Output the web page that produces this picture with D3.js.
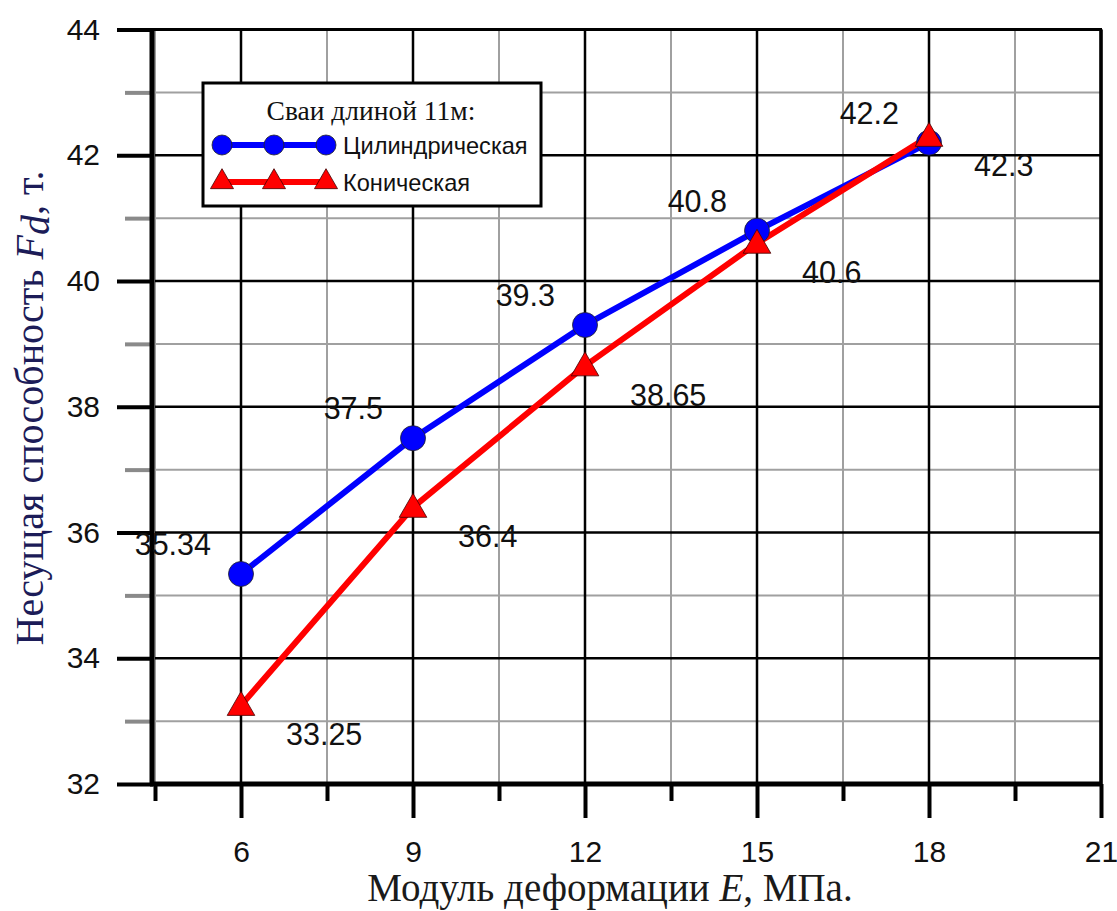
<!DOCTYPE html>
<html><head><meta charset="utf-8">
<script src="https://cdn.jsdelivr.net/npm/d3@7"></script>
<style>body{margin:0;background:#fff}svg{display:block}</style>
</head><body>
<svg id="c" width="1117" height="911"></svg>
<script>
const xValues = [6, 9, 12, 15, 18];
const cylValues = [35.34, 37.5, 39.3, 40.8, 42.2];
const conValues = [33.25, 36.4, 38.65, 40.6, 42.3];
const cylLabels = ["35.34", "37.5", "39.3", "40.8", "42.2"];
const conLabels = ["33.25", "36.4", "38.65", "40.6", "42.3"];
const xTicks = [6, 9, 12, 15, 18, 21];
const xMinor = [4.5, 7.5, 10.5, 13.5, 16.5, 19.5];
const yTicks = [32, 34, 36, 38, 40, 42, 44];
const yMinor = [33, 35, 37, 39, 41, 43];
const legendTitle = "Сваи длиной 11м:";
const seriesNames = ["Цилиндрическая", "Коническая"];

const svg = d3.select("#c");
const L = 155, R = 1101, T = 29.5, B = 784;
const x = d3.scaleLinear().domain([4.5, 21]).range([L, R]);
const y = d3.scaleLinear().domain([32, 44]).range([B, T]);

const grid = svg.append("g");
grid.selectAll(".vm").data(xMinor).join("line")
  .attr("x1", d => x(d)).attr("x2", d => x(d)).attr("y1", T).attr("y2", B)
  .attr("stroke", "#a0a0a0").attr("stroke-width", 2);
grid.selectAll(".hm").data(yMinor).join("line")
  .attr("x1", L).attr("x2", R).attr("y1", d => y(d)).attr("y2", d => y(d))
  .attr("stroke", "#a0a0a0").attr("stroke-width", 2);
grid.selectAll(".vM").data(xTicks).join("line")
  .attr("x1", d => x(d)).attr("x2", d => x(d)).attr("y1", T).attr("y2", B)
  .attr("stroke", "#000").attr("stroke-width", 2.5);
grid.selectAll(".hM").data(yTicks).join("line")
  .attr("x1", L).attr("x2", R).attr("y1", d => y(d)).attr("y2", d => y(d))
  .attr("stroke", "#000").attr("stroke-width", 2.5);

const font = "'Liberation Sans', Arial, sans-serif";
const serif = "'Liberation Serif', 'Times New Roman', serif";

const xAxis = d3.axisBottom(x).tickValues(xTicks).tickSize(34).tickPadding(23).tickFormat(d3.format("d"));
const gx = svg.append("g").attr("transform", `translate(0,${B})`).call(xAxis);
gx.select(".domain").remove();
gx.selectAll(".tick line").attr("stroke", "#000").attr("stroke-width", 4);
gx.selectAll(".tick text").attr("font-family", font).attr("font-size", 30).attr("fill", "#111");
const gxm = svg.append("g").attr("transform", `translate(0,${B})`)
  .call(d3.axisBottom(x).tickValues(xMinor).tickSize(17).tickFormat(""));
gxm.select(".domain").remove();
gxm.selectAll(".tick line").attr("stroke", "#000").attr("stroke-width", 4);

const yAxis = d3.axisLeft(y).tickValues(yTicks).tickSize(36).tickPadding(17).tickFormat(d3.format("d"));
const gy = svg.append("g").attr("transform", `translate(${L - 2},0)`).call(yAxis);
gy.select(".domain").remove();
gy.selectAll(".tick line").attr("stroke", "#000").attr("stroke-width", 4);
gy.selectAll(".tick text").attr("font-family", font).attr("font-size", 30).attr("fill", "#111");
const gym = svg.append("g").attr("transform", `translate(${L - 2},0)`)
  .call(d3.axisLeft(y).tickValues(yMinor).tickSize(28).tickFormat(""));
gym.select(".domain").remove();
gym.selectAll(".tick line").attr("stroke", "#8a8a8a").attr("stroke-width", 4);

svg.append("line").attr("x1", L - 3).attr("x2", L - 3).attr("y1", T - 1).attr("y2", B + 2)
  .attr("stroke", "#000").attr("stroke-width", 5);
svg.append("line").attr("x1", L - 5).attr("x2", R + 1).attr("y1", B).attr("y2", B)
  .attr("stroke", "#000").attr("stroke-width", 5);
svg.append("line").attr("x1", L - 5).attr("x2", R + 1).attr("y1", T).attr("y2", T)
  .attr("stroke", "#000").attr("stroke-width", 3);
svg.append("line").attr("x1", R).attr("x2", R).attr("y1", T).attr("y2", B)
  .attr("stroke", "#000").attr("stroke-width", 3.5);

const line = d3.line().x(d => x(d[0])).y(d => y(d[1]));
const cyl = xValues.map((v, i) => [v, cylValues[i]]);
const con = xValues.map((v, i) => [v, conValues[i]]);
svg.append("path").datum(cyl).attr("d", line).attr("fill", "none")
  .attr("stroke", "#0000ff").attr("stroke-width", 6).attr("stroke-linejoin", "round");
svg.append("path").datum(con).attr("d", line).attr("fill", "none")
  .attr("stroke", "#ff0000").attr("stroke-width", 6).attr("stroke-linejoin", "round");

const tri = d3.symbol().type(d3.symbolTriangle);
svg.selectAll(".cm").data(cyl).join("circle")
  .attr("cx", d => x(d[0])).attr("cy", d => y(d[1])).attr("r", 12.5)
  .attr("fill", "#0000ff").attr("stroke", "#222").attr("stroke-width", 0.8);
svg.selectAll(".tm").data(con).join("path")
  .attr("d", tri.size(330)())
  .attr("transform", d => `translate(${x(d[0])},${y(d[1]) + 2})`)
  .attr("fill", "#ff0000").attr("stroke", "#400").attr("stroke-width", 0.8);

svg.selectAll(".cl").data(cyl).join("text")
  .attr("x", d => x(d[0]) - 30).attr("y", d => y(d[1]) - 19)
  .attr("text-anchor", "end").attr("font-family", font).attr("font-size", 30.5).attr("fill", "#111")
  .text((d, i) => cylLabels[i]);
svg.selectAll(".tl").data(con).join("text")
  .attr("x", d => x(d[0]) + 45).attr("y", d => y(d[1]) + 40)
  .attr("text-anchor", "start").attr("font-family", font).attr("font-size", 30.5).attr("fill", "#111")
  .text((d, i) => conLabels[i]);

const lg = svg.append("g");
lg.append("rect").attr("x", 203).attr("y", 83).attr("width", 338).attr("height", 123)
  .attr("fill", "#fff").attr("stroke", "#000").attr("stroke-width", 3);
lg.append("text").attr("x", 371).attr("y", 120).attr("text-anchor", "middle")
  .attr("font-family", serif).attr("font-size", 27.5).attr("fill", "#111").text(legendTitle);
const lx = [222, 274, 326];
lg.append("line").attr("x1", 222).attr("x2", 326).attr("y1", 145).attr("y2", 145)
  .attr("stroke", "#0000ff").attr("stroke-width", 6);
lg.selectAll(".lc").data(lx).join("circle").attr("cx", d => d).attr("cy", 145).attr("r", 10)
  .attr("fill", "#0000ff").attr("stroke", "#222").attr("stroke-width", 0.8);
lg.append("line").attr("x1", 222).attr("x2", 326).attr("y1", 182).attr("y2", 182)
  .attr("stroke", "#ff0000").attr("stroke-width", 6);
lg.selectAll(".lt").data(lx).join("path").attr("d", tri.size(230)())
  .attr("transform", d => `translate(${d},${182})`)
  .attr("fill", "#ff0000").attr("stroke", "#400").attr("stroke-width", 0.8);
lg.append("text").attr("x", 343).attr("y", 154).attr("font-family", font).attr("font-size", 23.6)
  .attr("fill", "#111").text(seriesNames[0]);
lg.append("text").attr("x", 343).attr("y", 191).attr("font-family", font).attr("font-size", 23.6)
  .attr("fill", "#111").text(seriesNames[1]);

const xt = svg.append("text").attr("x", 610).attr("y", 901).attr("text-anchor", "middle")
  .attr("font-family", serif).attr("font-size", 39).attr("fill", "#1a1a1a");
xt.append("tspan").text("Модуль деформации ");
xt.append("tspan").attr("font-style", "italic").text("E");
xt.append("tspan").text(", МПа.");

const yt = svg.append("text").attr("transform", "translate(43,408) rotate(-90)")
  .attr("text-anchor", "middle").attr("font-family", serif).attr("font-size", 40).attr("fill", "#1c1c58");
yt.append("tspan").text("Несущая способность ");
yt.append("tspan").attr("font-style", "italic").text("F");
yt.append("tspan").attr("font-style", "italic").attr("dy", 6).text("d");
yt.append("tspan").attr("dy", -6).text(", т.");
</script>
</body></html>
